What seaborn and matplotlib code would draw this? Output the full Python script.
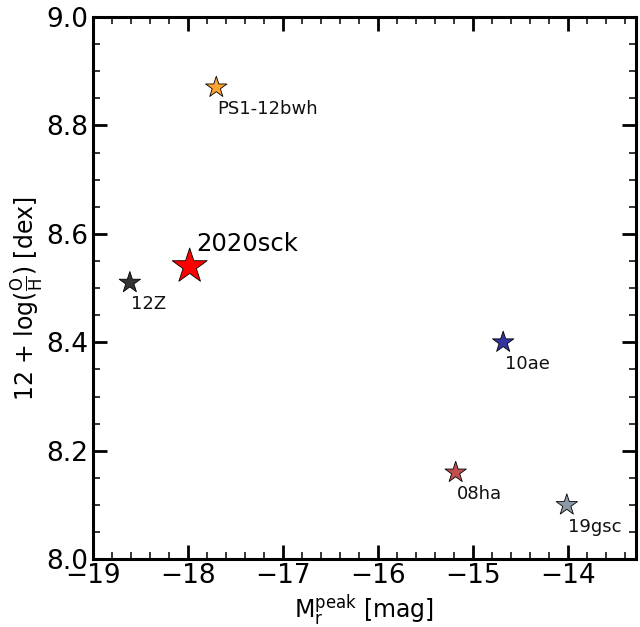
import matplotlib
matplotlib.use("Agg")
import matplotlib.pyplot as plt
import seaborn as sns
import pandas as pd
from matplotlib.ticker import MultipleLocator, FormatStrFormatter

names = ["PS1-12bwh", "2020sck", "12Z", "10ae", "08ha", "19gsc"]
mag_peak = [-17.70, -17.98, -18.61, -14.68, -15.18, -14.01]
metallicity = [8.87, 8.54, 8.51, 8.40, 8.16, 8.10]

colors = {"PS1-12bwh": "#ffa333", "2020sck": "#ff0000", "12Z": "#333333",
          "10ae": "#3333a2", "08ha": "#c14e4e", "19gsc": "#8d99a6"}
sizes = {"PS1-12bwh": 260, "2020sck": 700, "12Z": 260,
         "10ae": 260, "08ha": 260, "19gsc": 260}

df = pd.DataFrame({"name": names, "mag": mag_peak, "z": metallicity})

sns.set_style("white")
plt.rcParams["font.family"] = ["DejaVu Sans"]
plt.rcParams["mathtext.default"] = "regular"
plt.rcParams["text.color"] = "black"
plt.rcParams["axes.labelcolor"] = "black"
plt.rcParams["xtick.color"] = "black"
plt.rcParams["ytick.color"] = "black"

fig = plt.figure(figsize=(6.4, 6.27), dpi=100)
ax = fig.add_axes([0.145, 0.108, 0.849, 0.865])

sns.scatterplot(data=df, x="mag", y="z", hue="name", palette=colors,
                size="name", sizes=sizes, marker="*", edgecolor="black",
                linewidth=0.6, legend=False, ax=ax, zorder=3)

for n, x, y in zip(names, mag_peak, metallicity):
    if n == "2020sck":
        ax.annotate(n, (x, y), xytext=(5, 11), textcoords="offset points",
                    ha="left", va="baseline", fontsize=17.5, color="black")
    else:
        ax.annotate(n, (x, y), xytext=(1, -9), textcoords="offset points",
                    ha="left", va="top", fontsize=13, color="#111111")

ax.set_xlim(-19, -13.28)
ax.set_ylim(8.0, 9.0)
ax.xaxis.set_major_locator(MultipleLocator(1))
ax.xaxis.set_minor_locator(MultipleLocator(0.2))
ax.yaxis.set_major_locator(MultipleLocator(0.2))
ax.yaxis.set_minor_locator(MultipleLocator(0.05))
ax.yaxis.set_major_formatter(FormatStrFormatter("%.1f"))

ax.tick_params(which="both", direction="in", top=True, right=True,
               bottom=True, left=True, colors="black")
ax.tick_params(which="major", length=10, width=2, labelsize=19, pad=3)
ax.tick_params(which="minor", length=5, width=1.1)
for s in ax.spines.values():
    s.set_linewidth(2.2)
    s.set_color("black")

ax.set_xlabel(r"M$_{\rm r}^{\rm peak}$ [mag]", fontsize=17, labelpad=2)
ax.set_ylabel(r"12 + log($\frac{\rm O}{\rm H}$) [dex]", fontsize=17)
ax.yaxis.set_label_coords(-0.087, 0.481)

fig.savefig("out.png", dpi=100)
